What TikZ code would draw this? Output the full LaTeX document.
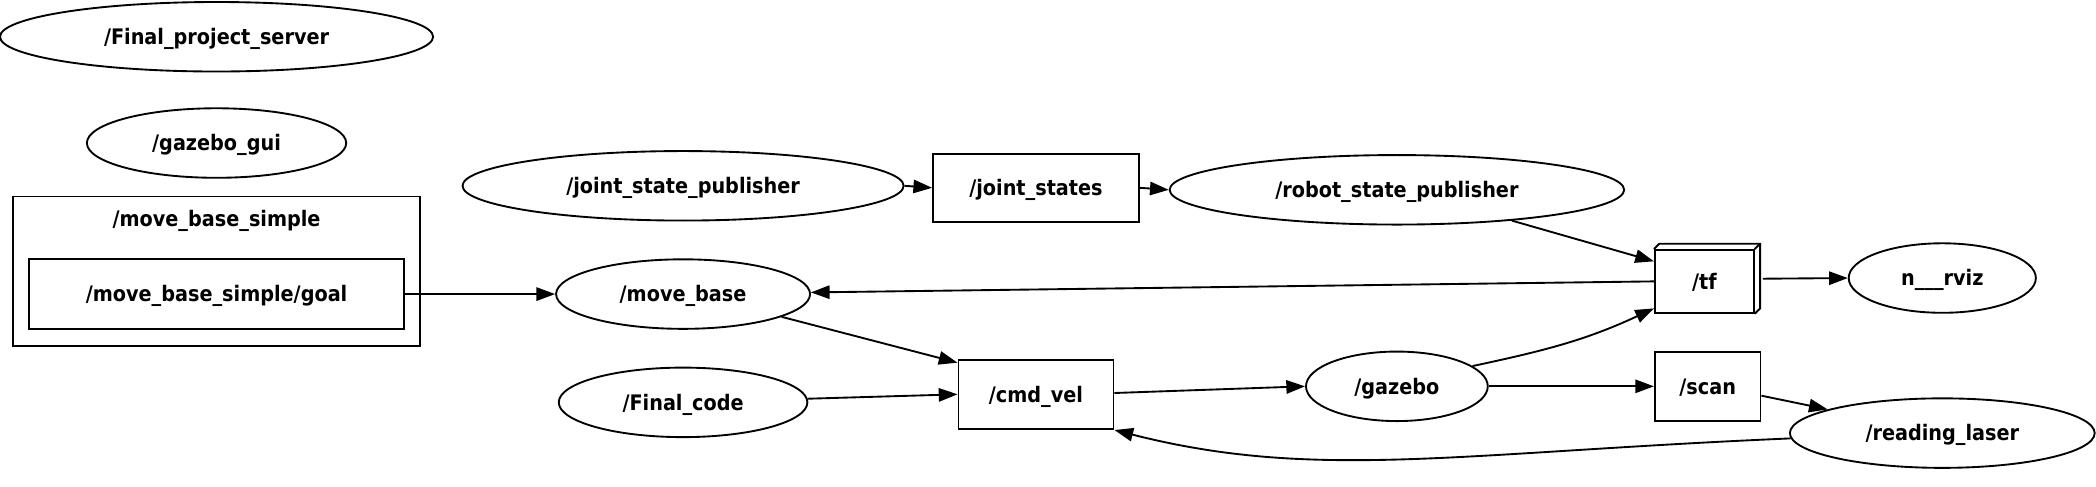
\documentclass[tikz,border=0pt]{standalone}
\usepackage{fontspec}
\setmainfont{DejaVu Sans Condensed}[BoldFont={DejaVu Sans Condensed Bold}]
\usetikzlibrary{shapes.geometric,arrows.meta}
\tikzset{
  lbl/.style={font=\fontsize{16}{18}\selectfont\bfseries, text height=15pt, text depth=3.5pt},
  ell/.style={ellipse, draw, line width=1.4pt, inner sep=0pt, minimum height=52pt, lbl},
  topic/.style={rectangle, draw, line width=1.4pt, inner sep=0pt, lbl},
  arr/.style={line width=1.4pt, -{Triangle[length=14pt,width=10pt]}},
}
\begin{document}
\begin{tikzpicture}[x=1pt,y=-1pt]
\useasboundingbox (0,0) rectangle (1568,364);
% cluster
\draw[line width=1.4pt] (10,147) rectangle (314,259);
\node[lbl] (clab) at (162,163.5) {/move\_base\_simple};
\node[topic, minimum width=280pt, minimum height=52pt] (goal) at (162,220) {/move\_base\_simple/goal};
% nodes
\node[ell, minimum width=324pt] (fps) at (162,27.5) {/Final\_project\_server};
\node[ell, minimum width=194pt] (gg) at (162,107) {/gazebo\_gui};
\node[ell, minimum width=330pt] (jsp) at (511,139) {/joint\_state\_publisher};
\node[topic, minimum width=154pt, minimum height=51pt] (js) at (775,140.5) {/joint\_states};
\node[ell, minimum width=340pt] (rsp) at (1045,142) {/robot\_state\_publisher};
\node[ell, minimum width=190pt] (mb) at (511,220) {/move\_base};
\node[topic, minimum width=74pt, minimum height=47pt] (tf) at (1275,210.5) {/tf};
\draw[line width=1.4pt] (tf.north west) -- ++(4,-4) -- ([shift={(4,-4)}]tf.north east) -- ([shift={(4,-4)}]tf.south east) -- (tf.south east);
\draw[line width=1.4pt] (tf.north east) -- ++(4,-4);
\node[ell, minimum width=140pt] (rviz) at (1453,208) {n\_\_\_rviz};
\node[ell, minimum width=186pt] (fc) at (511,301) {/Final\_code};
\node[topic, minimum width=116pt, minimum height=52pt] (cmd) at (775,295) {/cmd\_vel};
\node[ell, minimum width=136pt] (gz) at (1045,289) {/gazebo};
\node[topic, minimum width=79pt, minimum height=52pt] (scan) at (1277.5,289) {/scan};
\node[ell, minimum width=228pt] (rl) at (1453,324) {/reading\_laser};
% edges
\draw[arr] (goal.east) -- (mb.west);
\draw[arr] (jsp.east) -- (js.west);
\draw[arr] (js.east) -- (rsp.west);
\draw[arr] (rsp.-15.5) -- ([yshift=15pt]tf.west);
\draw[arr] (tf.west) -- (mb);
\draw[arr] ([xshift=6pt,yshift=2pt]tf.east) -- (rviz.west);
\draw[arr] (mb.-13) -- ([yshift=-3pt]cmd.north west);
\draw[arr] (fc) -- (cmd.west);
\draw[arr] ([yshift=1pt]cmd.east) -- (gz.west);
\draw[arr] (gz.15) to[out=12, in=-155] ([yshift=4pt]tf.south west);
\draw[arr] (gz.east) -- (scan.west);
\draw[arr] ([yshift=-7pt]scan.east) -- (rl);
\draw[arr] (rl.182) .. controls (1090,338.6) and (984,360) .. (cmd.south east);
\end{tikzpicture}
\end{document}
